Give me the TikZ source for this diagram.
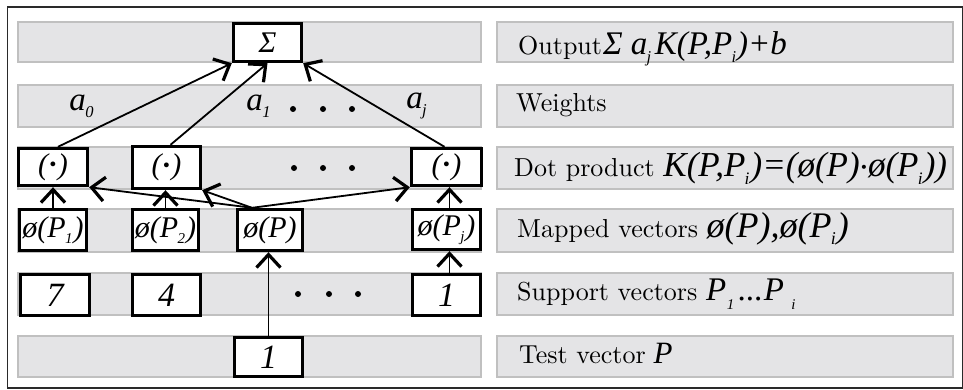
\documentclass[tikz,border=0pt]{standalone}
\usepackage{fontspec}
\newfontfamily\tms{Liberation Serif}
\usetikzlibrary{arrows.meta}
\definecolor{bandfill}{HTML}{E4E4E6}
\definecolor{bandedge}{HTML}{C0C0C0}
\definecolor{framec}{HTML}{2A2A2A}
\newcommand\sbs[1]{\kern-0.02em\raisebox{-0.22em}{\scalebox{0.5}{#1}}\kern0.03em}
\newcommand\fs[1]{\fontsize{#1}{#1}\selectfont}
\newcommand\dotc{\raisebox{0.12em}{\scalebox{0.55}{\fontspec{DejaVu Sans}•}}}
\newcommand\up[1]{\scalebox{2.6}{#1}}
\begin{document}
\begin{tikzpicture}[x=1pt,y=-1pt,
 band/.style={fill=bandfill,draw=bandedge,line width=1.5pt},
 nbox/.style={draw=black,line width=3.4pt,fill=white,inner sep=0pt,font=\tms\itshape\fs{30}},
 sz/.style 2 args={minimum width=#1pt,minimum height=#2pt},
 numf/.style={font=\tms\itshape\fs{34}},
 lab/.style={anchor=base west,inner sep=0pt,font=\fontsize{10}{12}\selectfont},
 wlab/.style={inner sep=0pt,font=\tms\itshape\fs{33}},
 arr/.style={line width=1.8pt,-{Straight Barb[length=13pt,width=24pt,line width=3.2pt]}},
 bdot/.style={circle,fill=black,inner sep=0pt,minimum size=6pt}
]
\useasboundingbox (0,0) rectangle (963,390);
\draw[framec,line width=1pt] (7,7) rectangle (962,388);
\draw[framec,line width=2.5pt] (7,7) -- (962,7);
\draw[framec,line width=2.5pt] (7,388) -- (962,388);
% bands
\foreach \a/\b in {22/62,85/127,147/189,209/252,273/315,336/377}{
  \draw[band] (18,\a) rectangle (481,\b);
  \draw[band] (497,\a) rectangle (953,\b);
}
% boxes
\node[nbox,sz={68}{38}] (sig) at (267.5,42.5) {Σ};
\node[nbox,sz={69}{37}] (dA) at (53,167) {(\dotc)};
\node[nbox,sz={68}{42}] (dB) at (166.5,167.5) {(\dotc)};
\node[nbox,sz={70}{37}] (dC) at (446.5,167) {(\dotc)};
\node[nbox,sz={67}{41}] (pA) at (53,230) {ø(P\sbs{1})};
\node[nbox,sz={66}{41}] (pB) at (165.5,230) {ø(P\sbs{2})};
\node[nbox,sz={65}{41}] (pP) at (270,230) {ø(P)};
\node[nbox,sz={68}{40}] (pC) at (446.5,229.5) {ø(P\sbs{j})};
\node[nbox,numf,sz={69}{41}] (sA) at (55,295) {7};
\node[nbox,numf,sz={68}{41}] (sB) at (166.5,295) {4};
\node[nbox,numf,sz={68}{41}] (sC) at (446.5,295) {1};
\node[nbox,numf,sz={68}{39}] (tv) at (268.5,357) {1};
% weights
\node[wlab] (w0) at (82,106) {a\sbs{0}};
\node[wlab] (w1) at (259,106) {a\sbs{1}};
\node[wlab] (wj) at (417,106) {a\sbs{j}};
\node[bdot] (wd1) at (293,109) {};
\node[bdot] (wd2) at (323,109) {};
\node[bdot] (wd3) at (352,109) {};
\node[bdot] (dd1) at (294,168) {};
\node[bdot] (dd2) at (323,168) {};
\node[bdot] (dd3) at (352,168) {};
\node[bdot] (sd1) at (298,294) {};
\node[bdot] (sd2) at (329,294) {};
\node[bdot] (sd3) at (358,294) {};
% connectors
\draw[arr] ([xshift=5pt]dA.north) -- (sig.south west);
\draw[arr] ([xshift=4pt]dB.north) -- (sig.south);
\draw[arr] ([xshift=-2pt]dC.north) -- (sig.south east);
\draw[arr] (pA.north) -- (pA.north |- dA.south);
\draw[arr] (pB.north) -- (pB.north |- dB.south);
\draw[arr] ([xshift=3pt]pC.north) -- ([xshift=3pt]dC.south);
\draw[arr] (tv.north) -- (tv.north |- pP.south);
\draw[arr] ([xshift=3pt]sC.north) -- ([xshift=3pt]pC.south);
\coordinate (pp) at ([xshift=-18pt]pP.north);
\draw[arr] (pp) -- (dA.south east);
\draw[arr] (pp) -- (dB.south east);
\draw[arr] (pp) -- (dC.south west);
% right labels
\node[lab] (lOut) at (518,55) {\up{Output}{\tms\itshape\fs{33}\kern0.03emΣ a\sbs{j}\kern0.08emK(P,P\sbs{i})+b}};
\node[lab] (lW) at (516,112) {\up{Weights}};
\node[lab] (lD) at (514,177) {\up{Dot product }{\tms\itshape\fs{35}K(P,P\sbs{i})=(ø(P)\raisebox{0.12em}{\scalebox{0.4}{\fontspec{DejaVu Sans}•}}ø(P\sbs{i}))}};
\node[lab] (lM) at (517,237) {\up{Mapped vectors }{\tms\itshape\fs{36}ø(P),ø(P\sbs{i})}};
\node[lab] (lS) at (517,300) {\up{Support vectors }{\tms\itshape\fs{33}P\kern0.02em\raisebox{-0.3em}{\scalebox{0.45}{1}}\kern0.1em{\upshape...}\kern0.05emP\kern0.22em\raisebox{-0.3em}{\scalebox{0.45}{i}}}};
\node[lab] (lT) at (519,363) {\up{Test vector}{\tms\itshape\fs{31} P}};
\end{tikzpicture}
\end{document}
